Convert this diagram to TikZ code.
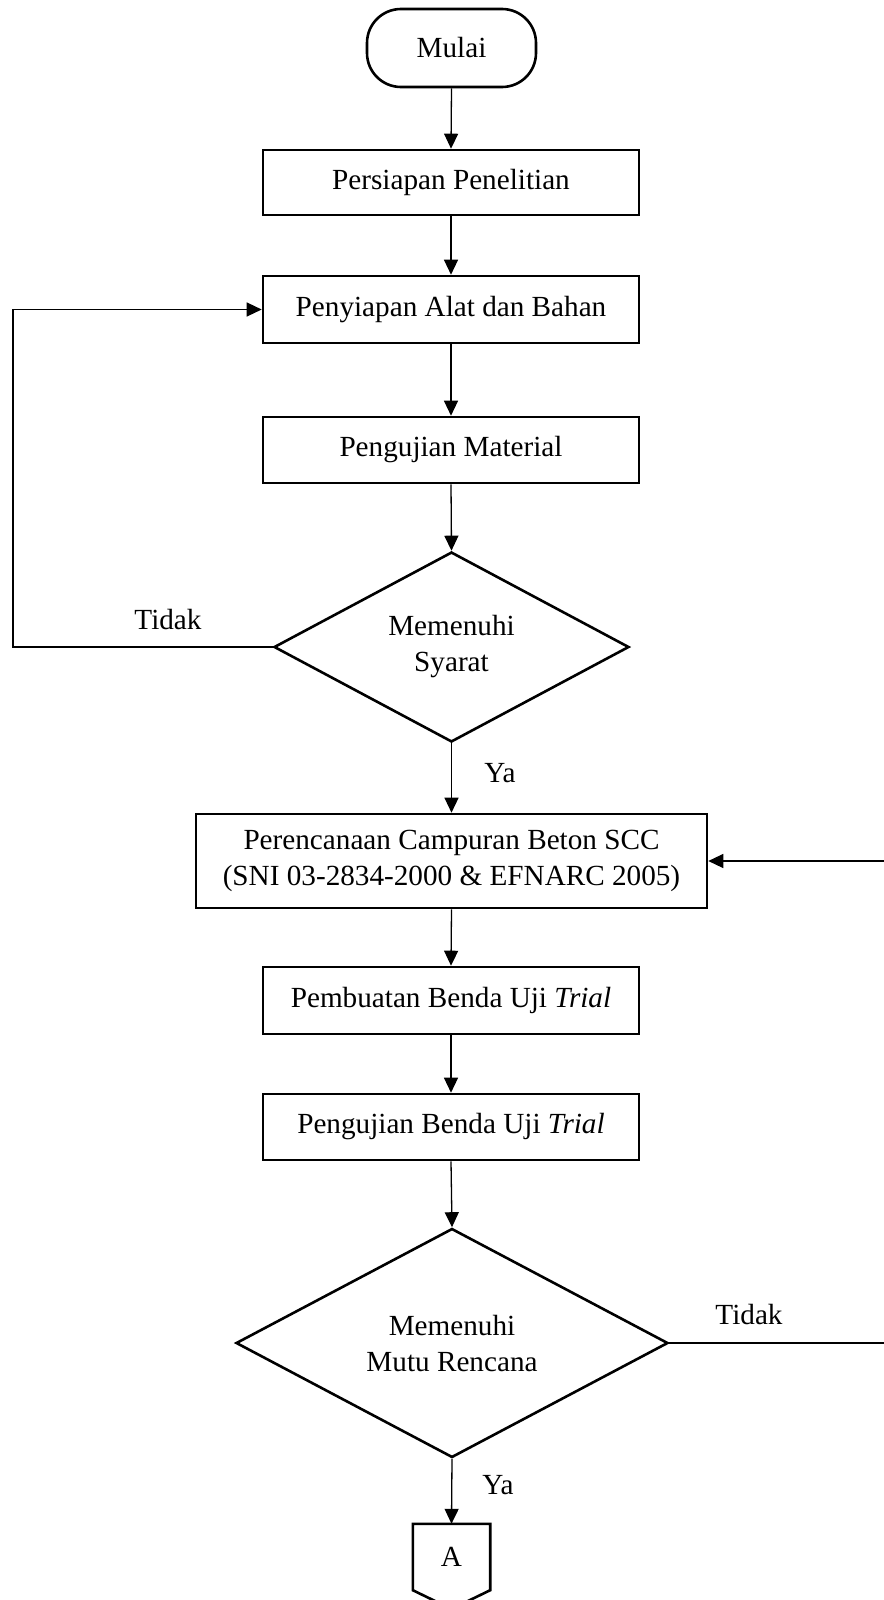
\documentclass[tikz,border=0pt]{standalone}
\usepackage{fontspec}
\setmainfont{Liberation Serif}
\usetikzlibrary{shapes.geometric,arrows.meta}
\begin{document}
\begin{tikzpicture}[x=1pt,y=-1pt,
  every node/.style={font=\fontsize{29.2}{36}\selectfont, align=center},
  procbox/.style={draw, line width=2.6pt, rectangle, inner sep=0pt},
  decbox/.style={draw, line width=2.6pt, diamond, inner sep=0pt},
  lbl/.style={inner sep=0pt},
  arr/.style={line width=1.3pt, -{Triangle[length=15pt,width=14pt]}},
  ln/.style={line width=1.3pt}]
\useasboundingbox (0,0) rectangle (883,1600);
\fill[white] (0,0) rectangle (883,1600);

\node[procbox, rounded corners=34pt, minimum width=169pt, minimum height=78pt] (mulai) at (451.5,48) {Mulai};
\node[procbox, minimum width=376pt, minimum height=65pt] (b1) at (451,182.5) {Persiapan Penelitian};
\node[procbox, minimum width=376pt, minimum height=67pt] (b2) at (451,309.5) {Penyiapan Alat dan Bahan};
\node[procbox, minimum width=376pt, minimum height=66pt] (b3) at (451,450) {Pengujian Material};
\node[decbox, minimum width=355pt, minimum height=190pt] (d1) at (451.5,647) {Memenuhi\\Syarat};
\node[procbox, minimum width=511pt, minimum height=94pt] (b4) at (451.5,861) {Perencanaan Campuran Beton SCC\\(SNI 03-2834-2000 \& EFNARC 2005)};
\node[procbox, minimum width=376pt, minimum height=67pt] (b5) at (451,1000.5) {Pembuatan Benda Uji \textit{Trial}};
\node[procbox, minimum width=376pt, minimum height=66pt] (b6) at (451,1127) {Pengujian Benda Uji \textit{Trial}};
\node[decbox, minimum width=432pt, minimum height=229pt] (d2) at (452,1343) {Memenuhi\\Mutu Rencana};
\node[inner sep=0pt, minimum width=77pt, minimum height=66pt] (A) at (451.5,1557) {A};
\draw[line width=2.6pt, line join=miter] (A.north west) -- (A.north east) -- (A.south east) -- (451.5,1609) -- (A.south west) -- cycle;

\node[lbl] (t1) at (168,620) {Tidak};
\node[lbl] (y1) at (500,773) {Ya};
\node[lbl] (t2) at (749,1314) {Tidak};
\node[lbl] (y2) at (498,1485) {Ya};

\coordinate (L1) at (13,647);
\coordinate (L2) at (13,309.5);
\coordinate (R1) at (886,1343);
\coordinate (R2) at (886,861);

\draw[arr] (mulai.south) -- (b1.north);
\draw[arr] (b1.south) -- (b2.north);
\draw[arr] (b2.south) -- (b3.north);
\draw[arr] (b3.south) -- (d1.north);
\draw[arr] (d1.west) -- (L1) -- (L2) -- (b2.west);
\draw[arr] (d1.south) -- (b4.north);
\draw[arr] (b4.south) -- (b5.north);
\draw[arr] (b5.south) -- (b6.north);
\draw[arr] (b6.south) -- (d2.north);
\draw[arr] (d2.east) -- (R1) -- (R2) -- (b4.east);
\draw[arr] (d2.south) -- (A.north);
\end{tikzpicture}
\end{document}
